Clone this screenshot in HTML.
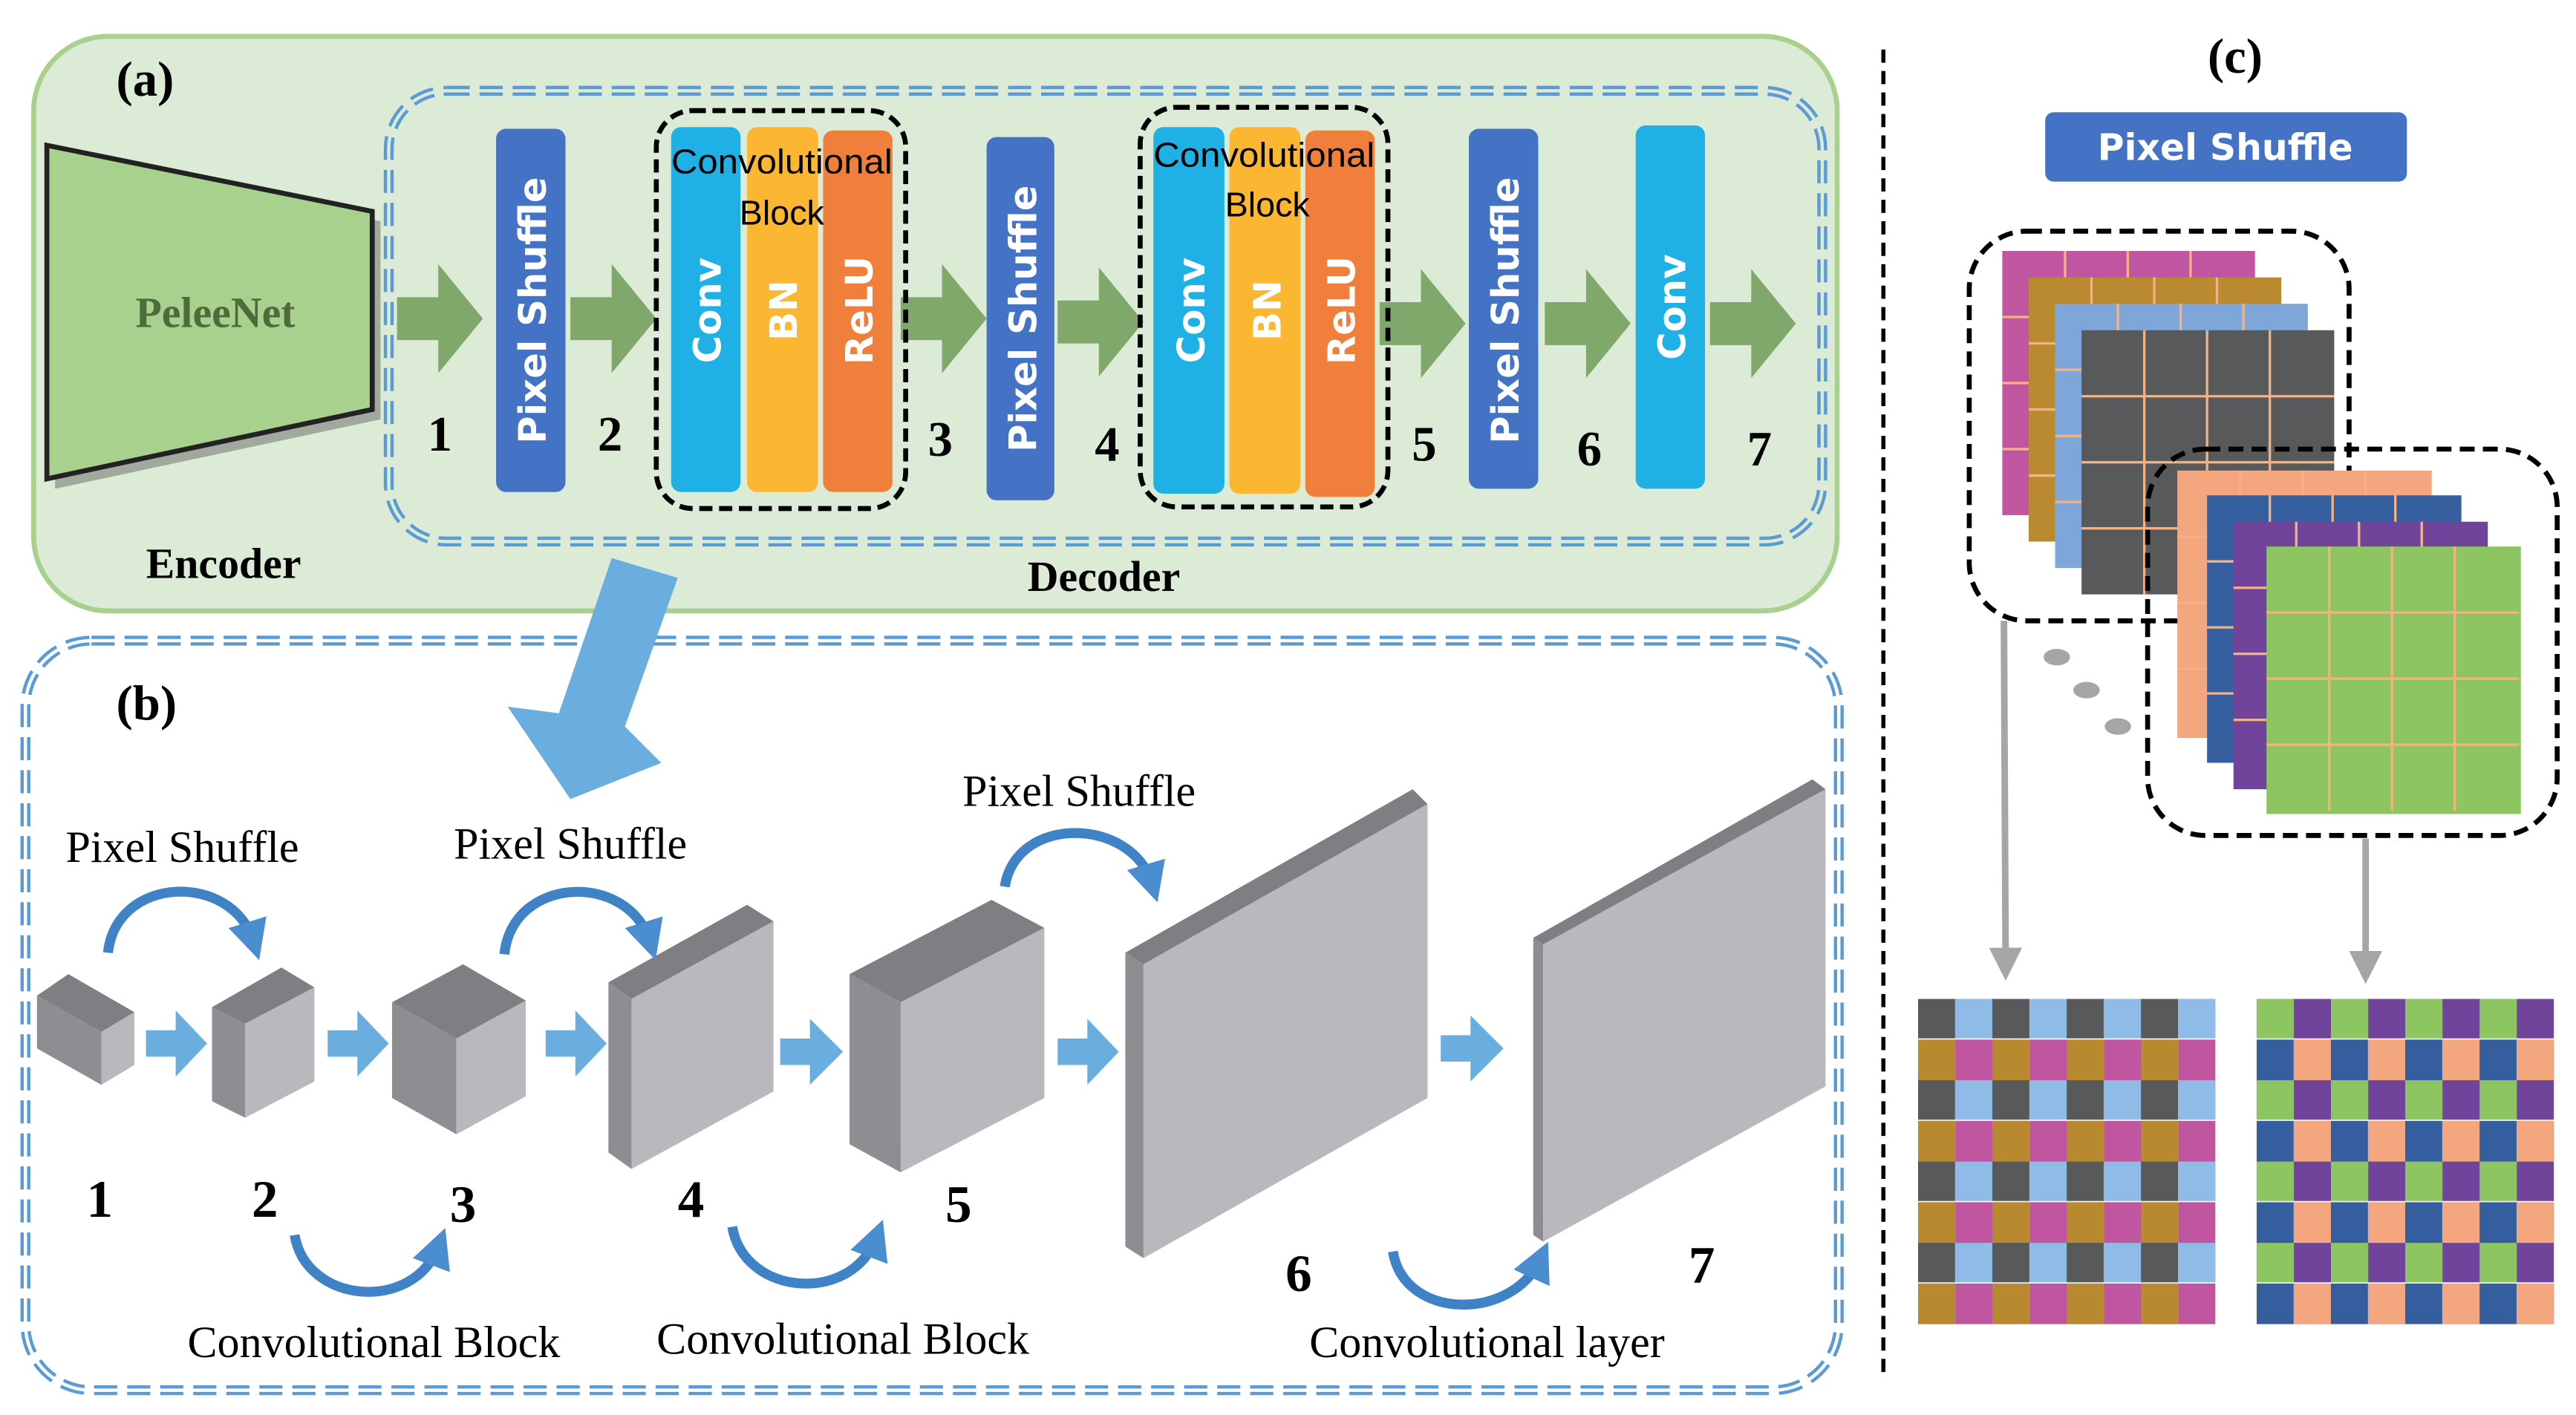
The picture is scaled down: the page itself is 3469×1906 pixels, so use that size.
<!DOCTYPE html>
<html><head><meta charset="utf-8"><style>html,body{margin:0;padding:0;background:#fff}svg{display:block}</style></head><body>
<svg width="3469" height="1906" viewBox="0 0 1559 857" xmlns="http://www.w3.org/2000/svg" font-family="Liberation Serif, serif">
<defs>
<pattern id="pl" x="1161" y="605" width="45" height="49.25" patternUnits="userSpaceOnUse">
<rect width="22.5" height="24.6" fill="#58595b"/><rect x="22.5" width="22.5" height="24.6" fill="#8fbce6"/>
<rect y="24.6" width="22.5" height="24.65" fill="#b8892f"/><rect x="22.5" y="24.6" width="22.5" height="24.65" fill="#c055a0"/>
<rect y="23.9" width="45" height="0.7" fill="#fff"/></pattern>
<pattern id="pr" x="1366" y="605" width="45" height="49.25" patternUnits="userSpaceOnUse">
<rect width="22.5" height="24.6" fill="#8dc561"/><rect x="22.5" width="22.5" height="24.6" fill="#6f449a"/>
<rect y="24.6" width="22.5" height="24.65" fill="#355e9e"/><rect x="22.5" y="24.6" width="22.5" height="24.65" fill="#f4a77e"/>
<rect y="23.9" width="45" height="0.7" fill="#fff"/></pattern>
<g id="gl" stroke="#f4b183" stroke-width="1.5">
<line x1="38" y1="0" x2="38" y2="160"/><line x1="76" y1="0" x2="76" y2="160"/><line x1="114" y1="0" x2="114" y2="160"/>
<line x1="0" y1="40" x2="153" y2="40"/><line x1="0" y1="80" x2="153" y2="80"/><line x1="0" y1="120" x2="153" y2="120"/></g>
<marker id="bh" viewBox="0 0 10 10" refX="5" refY="5" markerWidth="4" markerHeight="4" orient="auto"><path d="M0,0L10,5L0,10z" fill="#4a8ed0"/></marker>
<marker id="gh" viewBox="0 0 10 10" refX="2" refY="5" markerWidth="5" markerHeight="5" orient="auto"><path d="M0,0L10,5L0,10z" fill="#a6a6a6"/></marker>
</defs>

<rect x="20" y="22" width="1092" height="348" rx="45" fill="#dcebd5" stroke="#a9d18e" stroke-width="3"/>
<rect x="235" y="55" width="868" height="273" rx="35" fill="none" stroke="#5b9bd5" stroke-width="6" stroke-dasharray="14 6"/>
<rect x="235" y="55" width="868" height="273" rx="35" fill="none" stroke="#dcebd5" stroke-width="2"/>
<text x="70" y="58" font-size="30" font-weight="bold">(a)</text>
<polygon points="33,94 230,134 230,254 33,296" fill="#666" opacity="0.5"/>
<polygon points="28,88 225,128 225,248 28,290" fill="#a9d18e" stroke="#222" stroke-width="3"/>
<text x="130" y="198" font-size="26" font-weight="bold" fill="#4e6b3a" text-anchor="middle">PeleeNet</text>
<text x="135" y="350" font-size="26" font-weight="bold" text-anchor="middle">Encoder</text>
<text x="668" y="358" font-size="26" font-weight="bold" text-anchor="middle">Decoder</text>
<g fill="#7fa86a">
<polygon points="240,180 265,180 265,160 292,193 265,226 265,206 240,206"/>
<polygon points="345,180 370,180 370,160 397,193 370,226 370,206 345,206"/>
<polygon points="545,180 570,180 570,160 597,193 570,226 570,206 545,206"/>
<polygon points="640,182 665,182 665,162 692,195 665,228 665,208 640,208"/>
<polygon points="835,183 860,183 860,163 887,196 860,229 860,209 835,209"/>
<polygon points="935,183 960,183 960,163 987,196 960,229 960,209 935,209"/>
<polygon points="1035,183 1060,183 1060,163 1087,196 1060,229 1060,209 1035,209"/>
</g>
<g font-family="DejaVu Sans, sans-serif" font-weight="bold" fill="#fff" font-size="23">
<rect x="300" y="78" width="42" height="220" rx="6" fill="#4472c4"/>
<text transform="translate(330,188) rotate(-90)" text-anchor="middle">Pixel Shuffle</text>
<rect x="597" y="83" width="41" height="220" rx="6" fill="#4472c4"/>
<text transform="translate(627,193) rotate(-90)" text-anchor="middle">Pixel Shuffle</text>
<rect x="889" y="78" width="42" height="218" rx="6" fill="#4472c4"/>
<text transform="translate(919,188) rotate(-90)" text-anchor="middle">Pixel Shuffle</text>
<rect x="990" y="76" width="42" height="220" rx="6" fill="#1fb0e6"/>
<text transform="translate(1020,186) rotate(-90)" text-anchor="middle">Conv</text>
<rect x="406" y="77" width="42" height="221" rx="6" fill="#1fb0e6"/>
<rect x="452" y="77" width="43" height="221" rx="6" fill="#fbb731"/>
<rect x="498" y="79" width="42" height="219" rx="6" fill="#f07f3c"/>
<text transform="translate(436,188) rotate(-90)" text-anchor="middle">Conv</text>
<text transform="translate(482,188) rotate(-90)" text-anchor="middle">BN</text>
<text transform="translate(528,188) rotate(-90)" text-anchor="middle">ReLU</text>
<rect x="698" y="77" width="43" height="222" rx="6" fill="#1fb0e6"/>
<rect x="744" y="77" width="43" height="222" rx="6" fill="#fbb731"/>
<rect x="790" y="79" width="42" height="222" rx="6" fill="#f07f3c"/>
<text transform="translate(729,188) rotate(-90)" text-anchor="middle">Conv</text>
<text transform="translate(775,188) rotate(-90)" text-anchor="middle">BN</text>
<text transform="translate(820,188) rotate(-90)" text-anchor="middle">ReLU</text>
</g>
<rect x="397" y="67" width="151" height="241" rx="22" fill="none" stroke="#000" stroke-width="3" stroke-dasharray="8 4"/>
<rect x="690" y="65" width="150" height="242" rx="22" fill="none" stroke="#000" stroke-width="3" stroke-dasharray="8 4"/>
<g font-family="Liberation Sans Narrow, Liberation Sans, sans-serif" font-size="21" text-anchor="middle">
<text x="473" y="105" textLength="134" lengthAdjust="spacingAndGlyphs">Convolutional</text><text x="473" y="136">Block</text>
<text x="765" y="101" textLength="134" lengthAdjust="spacingAndGlyphs">Convolutional</text><text x="767" y="131">Block</text></g>
<g font-size="30" font-weight="bold" text-anchor="middle">
<text x="266" y="273">1</text><text x="369" y="273">2</text><text x="569" y="276">3</text><text x="670" y="279">4</text>
<text x="862" y="279">5</text><text x="962" y="282">6</text><text x="1065" y="282">7</text></g>

<rect x="15" y="388" width="1098" height="454" rx="40" fill="none" stroke="#5b9bd5" stroke-width="6" stroke-dasharray="14 6"/>
<rect x="15" y="388" width="1098" height="454" rx="40" fill="none" stroke="#fff" stroke-width="2"/>
<polygon points="370,338 410,350 378,440 400,462 345,484 307,428 338,432" fill="#6aaee0"/>
<text x="70" y="436" font-size="30" font-weight="bold">(b)</text>

<g>
<polygon points="22,603 41,590 81,613 61,625" fill="#7f7f83"/><polygon points="22,603 61,625 61,657 22,635" fill="#8e8e92"/><polygon points="61,625 81,613 81,645 61,657" fill="#bbb8bd"/>
<polygon points="128,610 170,586 190,598 148,620" fill="#7f7f83"/><polygon points="128,610 148,620 148,677 128,667" fill="#8e8e92"/><polygon points="148,620 190,598 190,655 148,677" fill="#bbb8bd"/>
<polygon points="237,607 280,584 318,606 276,629" fill="#7f7f83"/><polygon points="237,607 276,629 276,687 237,665" fill="#8e8e92"/><polygon points="276,629 318,606 318,664 276,687" fill="#bbb8bd"/>
<polygon points="368,595 452,548 468,558 382,605" fill="#7f7f83"/><polygon points="368,595 382,605 382,708 368,698" fill="#8e8e92"/><polygon points="382,605 468,558 468,661 382,708" fill="#bbb8bd"/>
<polygon points="514,590 600,545 632,562 545,607" fill="#7f7f83"/><polygon points="514,590 545,607 545,710 514,693" fill="#8e8e92"/><polygon points="545,607 632,562 632,665 545,710" fill="#bbb8bd"/>
<polygon points="681,577 855,478 864,487 692,584" fill="#7f7f83"/><polygon points="681,577 692,584 692,762 681,755" fill="#8e8e92"/><polygon points="692,584 864,487 864,665 692,762" fill="#bbb8bd"/>
<polygon points="928,568 1097,472 1105,478 934,572" fill="#7f7f83"/><polygon points="928,568 934,572 934,752 928,748" fill="#8e8e92"/><polygon points="934,572 1105,478 1105,658 934,752" fill="#bbb8bd"/>
</g>
<g fill="#6aaee0">
<polygon points="88,624 106,624 106,612 125,632 106,652 106,640 88,640"/>
<polygon points="198,624 216,624 216,612 235,632 216,652 216,640 198,640"/>
<polygon points="330,624 348,624 348,612 367,632 348,652 348,640 330,640"/>
<polygon points="472,629 490,629 490,617 510,637 490,657 490,645 472,645"/>
<polygon points="640,629 658,629 658,617 677,637 658,657 658,645 640,645"/>
<polygon points="872,627 890,627 890,615 910,635 890,655 890,643 872,643"/>
</g>
<g fill="none" stroke="#3f82c6" stroke-width="6" marker-end="url(#bh)">
<path d="M65,577 C70,530 140,528 153,570"/>
<path d="M305,578 C310,530 380,528 393,570"/>
<path d="M608,537 C615,493 685,495 697,535"/>
<path d="M178,748 C185,790 250,795 265,755"/>
<path d="M443,743 C450,785 515,790 530,750"/>
<path d="M843,758 C850,800 915,800 932,763"/>
</g>
<g font-size="27" text-anchor="middle">
<text x="110" y="522">Pixel Shuffle</text><text x="345" y="520">Pixel Shuffle</text><text x="653" y="488">Pixel Shuffle</text>
<text x="226" y="822">Convolutional Block</text><text x="510" y="820">Convolutional Block</text><text x="900" y="822">Convolutional layer</text></g>
<g font-size="32" font-weight="bold" text-anchor="middle">
<text x="60" y="737">1</text><text x="160" y="737">2</text><text x="280" y="740">3</text><text x="418" y="737">4</text>
<text x="580" y="740">5</text><text x="786" y="782">6</text><text x="1030" y="777">7</text></g>

<line x1="1140" y1="30" x2="1140" y2="832" stroke="#000" stroke-width="2.5" stroke-dasharray="8 5"/>

<text x="1353" y="44" font-size="30" font-weight="bold" text-anchor="middle">(c)</text>
<rect x="1238" y="68" width="219" height="42" rx="5" fill="#4472c4"/>
<text x="1347" y="97" font-family="DejaVu Sans, sans-serif" font-weight="bold" font-size="22" fill="#fff" text-anchor="middle">Pixel Shuffle</text>

<rect x="1212" y="152" width="153" height="160" fill="#c0569f"/><use href="#gl" x="1212" y="152"/>
<rect x="1228" y="168" width="153" height="160" fill="#b98a30"/><use href="#gl" x="1228" y="168"/>
<rect x="1244" y="184" width="153" height="160" fill="#7fa6d8"/><use href="#gl" x="1244" y="184"/>
<rect x="1260" y="200" width="153" height="160" fill="#58595b"/><use href="#gl" x="1260" y="200"/>
<rect x="1192" y="140" width="230" height="236" rx="35" fill="none" stroke="#000" stroke-width="3" stroke-dasharray="9 5"/>
<rect x="1318" y="285" width="154" height="162" fill="#f4a77e"/><use href="#gl" x="1318" y="285"/>
<rect x="1336" y="300" width="154" height="162" fill="#365f9f"/><use href="#gl" x="1336" y="300"/>
<rect x="1352" y="316" width="154" height="162" fill="#6f449a"/><use href="#gl" x="1352" y="316"/>
<rect x="1372" y="331" width="154" height="162" fill="#8dc561"/><use href="#gl" x="1372" y="331"/>
<rect x="1300" y="272" width="248" height="234" rx="35" fill="none" stroke="#000" stroke-width="3" stroke-dasharray="9 5"/>
<g fill="#a6a6a6"><ellipse cx="1245" cy="398" rx="8" ry="5"/><ellipse cx="1263" cy="418" rx="8" ry="5"/><ellipse cx="1282" cy="440" rx="8" ry="5"/></g>
<g stroke="#a6a6a6" stroke-width="4" marker-end="url(#gh)"><line x1="1213" y1="376" x2="1214" y2="578"/><line x1="1432" y1="508" x2="1432" y2="580"/></g>
<rect x="1161" y="605" width="180" height="197" fill="url(#pl)"/>
<rect x="1366" y="605" width="180" height="197" fill="url(#pr)"/>
</svg>
</body></html>
